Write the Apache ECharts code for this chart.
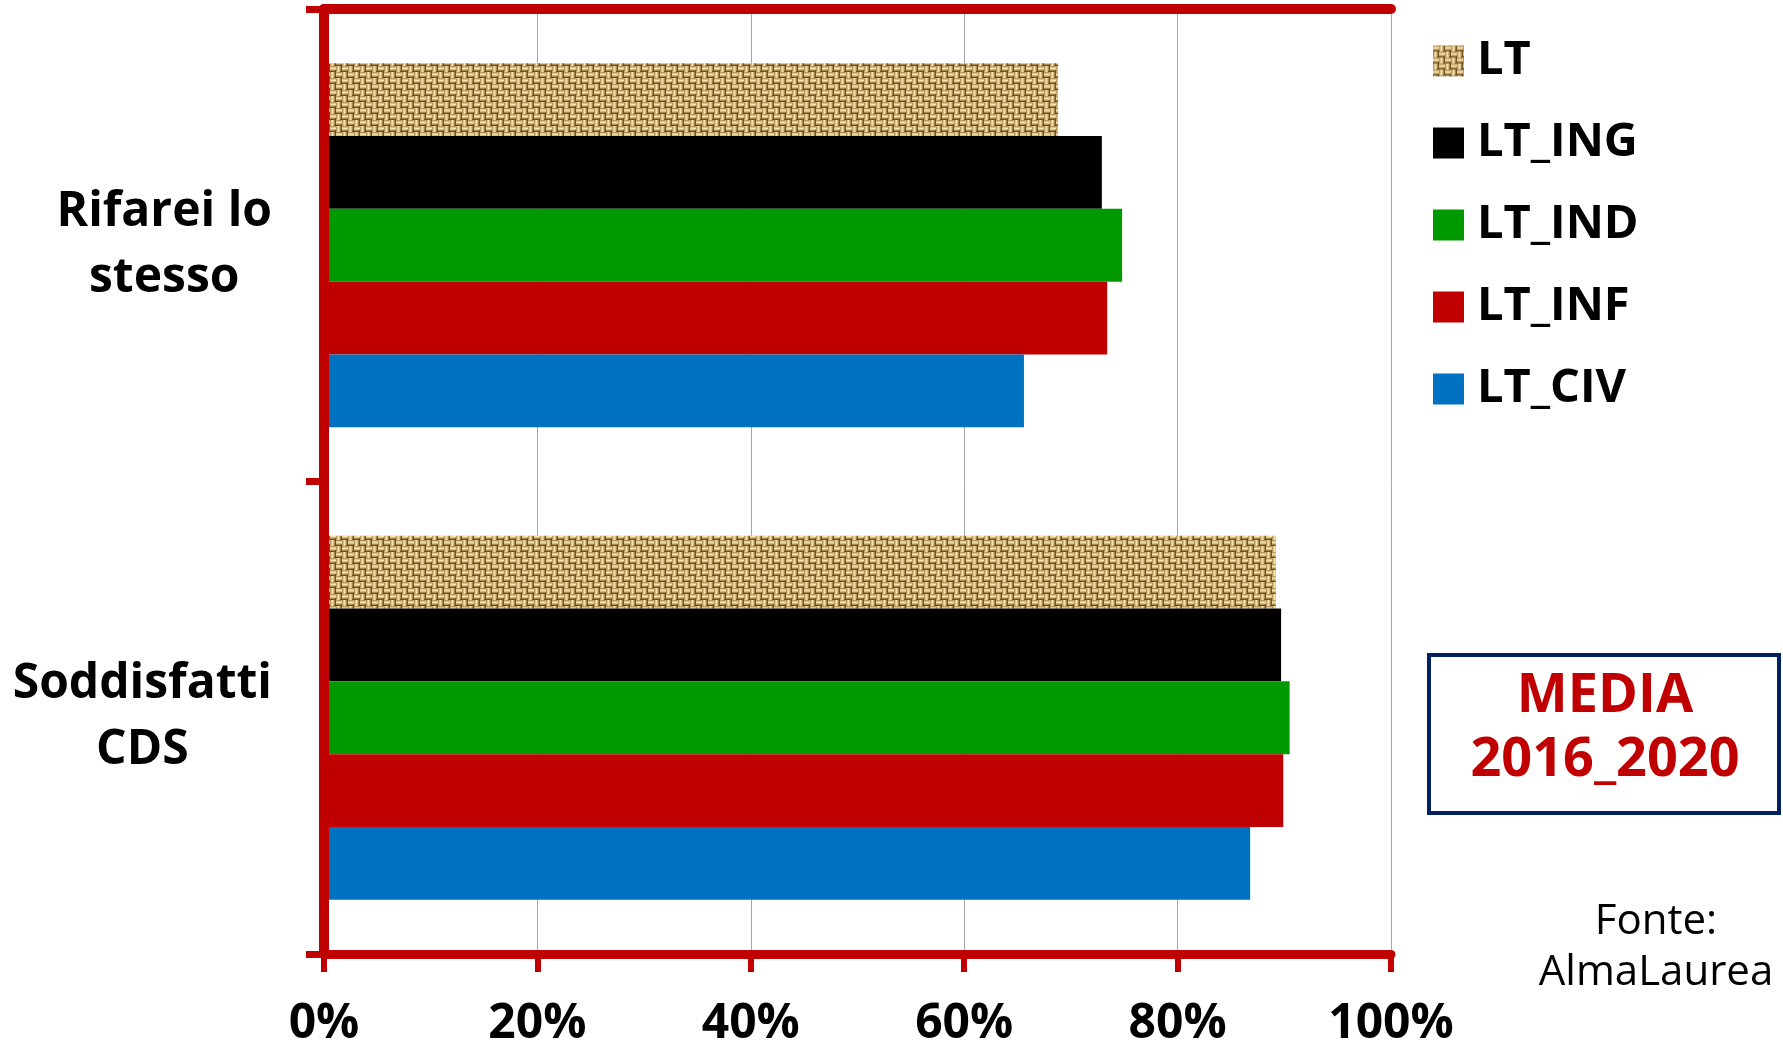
<!DOCTYPE html>
<html><head><meta charset="utf-8">
<script src="https://cdn.jsdelivr.net/npm/echarts@6/dist/echarts.min.js"></script>
<style>html,body{margin:0;padding:0;background:#fff;}#c{width:1783px;height:1048px;}</style>
</head><body><div id="c"></div>
<script>
const categories = ['Rifarei lo\nstesso', 'Soddisfatti\nCDS'];
const seriesNames = ['LT', 'LT_ING', 'LT_IND', 'LT_INF', 'LT_CIV'];
const LT     = [68.8, 89.2];
const LT_ING = [72.9, 89.7];
const LT_IND = [74.8, 90.5];
const LT_INF = [73.4, 89.9];
const LT_CIV = [65.6, 86.8];
const xTickValues = [0, 20, 40, 60, 80, 100];
const boxLines = ['MEDIA', '2016_2020'];
const sourceLines = ['Fonte:', 'AlmaLaurea'];

const FONT = '"Comic Sans MS", "Open Sans", sans-serif';
const RED = '#C00000';

function makeWeave() {
  const N = 4, S = 6;
  const c = document.createElement('canvas');
  c.width = N * S; c.height = N * S;
  const g = c.getContext('2d');
  g.fillStyle = '#6e4f22'; g.fillRect(0, 0, N * S, N * S);
  const shades = ['#b8975c', '#dcc288', '#f4e2ac', '#d6bb80', '#a98a50'];
  for (let i = 0; i < N; i++) for (let j = 0; j < N; j++) {
    const x = i * S, y = j * S;
    if ((i + j) % 2 === 0) {
      for (let k = 0; k < 5; k++) { g.fillStyle = shades[k]; g.fillRect(x, y + k, S - (k === 4 ? 1 : 0), 1); }
    } else {
      for (let k = 0; k < 5; k++) { g.fillStyle = shades[k]; g.fillRect(x + k, y, 1, S - (k === 4 ? 1 : 0)); }
    }
  }
  return c;
}
const weave = makeWeave();

const colors = [{ image: weave, repeat: 'repeat' }, '#000000', '#009900', RED, '#0070C0'];
const values = [LT, LT_ING, LT_IND, LT_INF, LT_CIV];

const chart = echarts.init(document.getElementById('c'), null, { renderer: 'canvas' });

const rich = {};
categories.forEach((c, i) => {
  rich['c' + i] = { align: 'center', fontSize: 48, fontWeight: 'bold', fontFamily: FONT, color: '#000', lineHeight: 66 };
});

const frameAxisLine = { show: true, lineStyle: { color: RED, width: 10, cap: 'round' } };

const option = {
  animation: false,
  backgroundColor: '#fff',
  grid: { left: 324, right: 392, top: 9, bottom: 93, show: false },
  legend: {
    orient: 'vertical', left: 1433, top: 36, padding: 0,
    itemWidth: 31, itemHeight: 31, itemGap: 32, icon: 'rect',
    data: seriesNames,
    textStyle: { fontSize: 47, fontWeight: 'bold', fontFamily: FONT, color: '#000', lineHeight: 50, padding: [0, 0, 0, 8] }
  },
  xAxis: [{
    type: 'value', min: 0, max: 100, interval: 20,
    axisLine: { show: true, lineStyle: { color: RED, width: 9 } },
    axisTick: { show: true, length: 18, lineStyle: { color: RED, width: 6 } },
    axisLabel: { formatter: v => xTickValues.includes(v) ? v + '%' : '', fontSize: 48, fontWeight: 'bold', fontFamily: FONT, color: '#000', margin: 46 },
    splitLine: { show: true, lineStyle: { color: '#A6A6A6', width: 1 } }
  }, {
    type: 'value', min: 0, max: 100, interval: 20, position: 'top', z: 5,
    axisLine: frameAxisLine, axisTick: { show: false }, axisLabel: { show: false }, splitLine: { show: false }
  }],
  yAxis: [{
    type: 'category', data: categories, inverse: true, z: 5,
    axisLine: { show: true, lineStyle: { color: RED, width: 9 } },
    axisTick: { show: true, length: 18, lineStyle: { color: RED, width: 7 } },
    axisLabel: {
      margin: 52,
      formatter: (val, idx) => val.split('\n').map(l => '{c' + idx + '|' + l + '}').join('\n'),
      rich: rich
    }
  }, {
    type: 'category', data: categories, inverse: true, position: 'right', z: 5,
    axisLine: frameAxisLine, axisTick: { show: false }, axisLabel: { show: false }, splitLine: { show: false }
  }],
  series: seriesNames.map((n, i) => ({
    name: n, type: 'bar', data: values[i],
    xAxisIndex: 0, yAxisIndex: 0,
    barGap: '0%', barCategoryGap: '23%',
    itemStyle: { color: colors[i] }
  })),
  graphic: [
    { type: 'rect', shape: { x: 1429, y: 655, width: 350, height: 158 }, style: { fill: '#fff', stroke: '#002060', lineWidth: 4 } },
    { type: 'text', x: 1605, y: 697, style: { text: boxLines[0], fill: RED, font: 'bold 54px ' + FONT, textAlign: 'center', textVerticalAlign: 'middle' } },
    { type: 'text', x: 1605, y: 761, style: { text: boxLines[1], fill: RED, font: 'bold 54px ' + FONT, textAlign: 'center', textVerticalAlign: 'middle' } },
    { type: 'text', x: 1656, y: 922, style: { text: sourceLines[0], fill: '#000', font: '42px ' + FONT, textAlign: 'center', textVerticalAlign: 'middle' } },
    { type: 'text', x: 1656, y: 973, style: { text: sourceLines[1], fill: '#000', font: '42px ' + FONT, textAlign: 'center', textVerticalAlign: 'middle' } }
  ]
};
chart.setOption(option);
</script></body></html>
